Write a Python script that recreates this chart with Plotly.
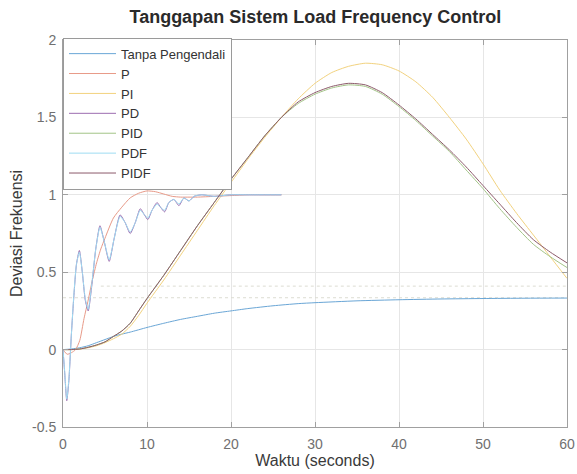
import plotly.graph_objects as go

# ---------------- data ----------------
t_tanpa = [0, 1, 2, 3, 4, 5, 6, 7, 8, 10, 12, 14, 16, 18, 20, 22, 25, 28, 30, 35, 40, 45, 50, 55, 60]
y_tanpa = [0, 0.004, 0.012, 0.025, 0.045, 0.065, 0.085, 0.1, 0.113, 0.143, 0.17, 0.195, 0.215, 0.235, 0.25, 0.265, 0.283, 0.297, 0.303, 0.315, 0.322, 0.327, 0.33, 0.332, 0.333]

t_hump = [0, 1, 2, 3, 4, 5, 6, 7, 8, 9, 10, 12, 14, 16, 18, 20, 22, 24, 26, 28, 30, 32, 34, 36, 38, 40, 42, 44, 46, 48, 50, 52, 54, 56, 58, 60]
y_pi = [0, 0, 0.003, 0.012, 0.025, 0.045, 0.07, 0.1, 0.15, 0.22, 0.3, 0.45, 0.61, 0.77, 0.93, 1.08, 1.23, 1.37, 1.5, 1.62, 1.72, 1.79, 1.83, 1.85, 1.84, 1.8, 1.73, 1.63, 1.5, 1.36, 1.2, 1.03, 0.88, 0.74, 0.6, 0.46]
y_pid = [0, 0, 0.004, 0.015, 0.03, 0.05, 0.085, 0.12, 0.17, 0.25, 0.33, 0.48, 0.64, 0.8, 0.95, 1.1, 1.24, 1.38, 1.5, 1.59, 1.65, 1.69, 1.71, 1.7, 1.65, 1.57, 1.48, 1.38, 1.28, 1.16, 1.04, 0.91, 0.79, 0.68, 0.6, 0.53]
y_pidf = [0, 0, 0.004, 0.015, 0.03, 0.05, 0.085, 0.12, 0.17, 0.25, 0.33, 0.48, 0.64, 0.8, 0.95, 1.1, 1.24, 1.38, 1.5, 1.6, 1.66, 1.7, 1.72, 1.71, 1.66, 1.58, 1.49, 1.39, 1.29, 1.18, 1.06, 0.94, 0.82, 0.71, 0.63, 0.56]

t_p = [0, 0.5, 1, 1.5, 2, 2.5, 3, 3.5, 4, 4.5, 5, 6, 7, 8, 9, 10, 11, 12, 13, 14, 15, 16, 18, 20, 22, 24, 26]
y_p = [0, -0.03, -0.02, 0.0, 0.06, 0.2, 0.32, 0.45, 0.56, 0.65, 0.72, 0.85, 0.92, 0.98, 1.01, 1.025, 1.02, 1.005, 0.99, 0.985, 0.985, 0.985, 0.99, 0.995, 1.0, 1.0, 1.0]

t_pd = [0, 0.2, 0.45, 0.7, 1.0, 1.3, 1.6, 1.95, 2.3, 2.65, 3.0, 3.4, 3.9, 4.4, 4.9, 5.5, 6.1, 6.8, 7.4, 8.0, 8.6, 9.2, 9.7, 10.1, 10.6, 11.2, 11.6, 12.1, 12.6, 13.2, 13.8, 14.4, 15.0, 15.6, 16.5, 18, 20, 22, 24, 26]
y_pd = [0, -0.15, -0.33, -0.2, 0.1, 0.35, 0.55, 0.64, 0.5, 0.32, 0.25, 0.4, 0.65, 0.8, 0.7, 0.57, 0.72, 0.87, 0.82, 0.75, 0.82, 0.91, 0.87, 0.84, 0.9, 0.95, 0.92, 0.89, 0.95, 0.97, 0.93, 0.98, 0.96, 0.99, 1.0, 0.99, 1.0, 1.0, 1.0, 1.0]
y_pdf = [0, -0.14, -0.32, -0.19, 0.1, 0.36, 0.55, 0.63, 0.5, 0.33, 0.26, 0.41, 0.65, 0.79, 0.7, 0.58, 0.72, 0.86, 0.82, 0.76, 0.82, 0.9, 0.87, 0.85, 0.9, 0.94, 0.92, 0.9, 0.95, 0.97, 0.94, 0.98, 0.96, 0.99, 1.0, 0.99, 1.0, 1.0, 1.0, 1.0]

# faint dotted levels visible in the picture
t_lvl_a = [0, 60]
y_lvl_a = [0.335, 0.335]
t_lvl_b = [4.5, 60]
y_lvl_b = [0.41, 0.41]

x_ticks = [0, 10, 20, 30, 40, 50, 60]
y_ticks = [-0.5, 0, 0.5, 1, 1.5, 2]
y_tick_text = ["-0.5", "0", "0.5", "1", "1.5", "2"]

names = ["Tanpa Pengendali", "P", "PI", "PD", "PID", "PDF", "PIDF"]
colors = ["#6aa6d6", "#e89a88", "#f2d27e", "#9c6cb0", "#a3c487", "#9fdcf2", "#8c5a6a"]

fig = go.Figure()
for ty, yy in [(t_lvl_a, y_lvl_a), (t_lvl_b, y_lvl_b)]:
    fig.add_trace(go.Scatter(x=ty, y=yy, mode="lines", showlegend=False, hoverinfo="skip",
                             line=dict(color="#dcdcd2", width=1, dash="dot")))

series = [
    (t_tanpa, y_tanpa),
    (t_p, y_p),
    (t_hump, y_pi),
    (t_pd, y_pd),
    (t_hump, y_pid),
    (t_pd, y_pdf),
    (t_hump, y_pidf),
]
for (tx, ty), nm, c in zip(series, names, colors):
    fig.add_trace(go.Scatter(x=tx, y=ty, mode="lines", name=nm,
                             line=dict(color=c, width=1, shape="spline", smoothing=0.6)))

axis_common = dict(
    showline=True, linecolor="#a0a0a0", linewidth=1, mirror="allticks",
    ticks="inside", ticklen=5, tickcolor="#a0a0a0",
    showgrid=True, gridcolor="#e6e6e6", gridwidth=1, zeroline=False,
    automargin=False,
    tickfont=dict(family="Liberation Sans, Arial", size=14, color="#707070"),
)

fig.update_layout(
    width=577, height=474,
    margin=dict(l=63, r=10, t=40, b=47),
    paper_bgcolor="white", plot_bgcolor="white",
    title=dict(text="<b>Tanggapan Sistem Load Frequency Control</b>",
               x=0.5465, xanchor="center", y=0.964, yanchor="middle",
               font=dict(family="Liberation Sans, Arial", size=18, color="#2a2a2a")),
    xaxis=dict(range=[0, 60], tickvals=x_ticks, ticklabelstandoff=4,
               title=dict(text="Waktu (seconds)", standoff=4,
                          font=dict(family="Liberation Sans, Arial", size=16, color="#3a3a3a")),
               **axis_common),
    yaxis=dict(range=[-0.5, 2], tickvals=y_ticks, ticktext=y_tick_text, ticklabelstandoff=3,
               title=dict(text="Deviasi Frekuensi", standoff=5,
                          font=dict(family="Liberation Sans, Arial", size=16, color="#3a3a3a")),
               **axis_common),
    legend=dict(x=0, y=1.006, xanchor="left", yanchor="top",
                bgcolor="white", bordercolor="#9a9a9a", borderwidth=1,
                itemwidth=47, tracegroupgap=0,
                font=dict(family="Liberation Sans, Arial", size=13, color="#333333")),
    showlegend=True,
)

fig.write_html("out.html", config={"displayModeBar": False},
               post_script="document.body.style.margin='0';")
